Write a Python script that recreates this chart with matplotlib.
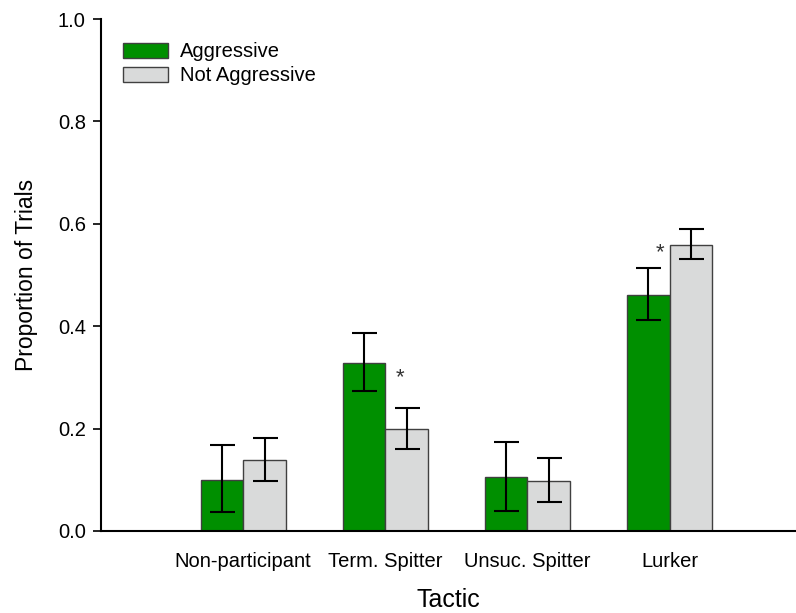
import numpy as np
import matplotlib.pyplot as plt

plt.rcParams['font.family'] = ['Liberation Sans', 'DejaVu Sans']

# data
tactics = ['Non-participant', 'Term. Spitter', 'Unsuc. Spitter', 'Lurker']
aggr = [0.10, 0.328, 0.105, 0.461]
aggr_lo = [0.037, 0.273, 0.040, 0.412]
aggr_hi = [0.168, 0.387, 0.173, 0.513]
notaggr = [0.139, 0.200, 0.097, 0.559]
notaggr_lo = [0.098, 0.160, 0.057, 0.531]
notaggr_hi = [0.182, 0.240, 0.142, 0.590]

x = np.arange(1, len(tactics) + 1)
w = 0.3

fig = plt.figure(figsize=(7.96, 6.13), dpi=100)
ax = fig.add_axes([0.127, 0.1338, 0.873, 0.835])

a_err = [np.array(aggr) - np.array(aggr_lo), np.array(aggr_hi) - np.array(aggr)]
n_err = [np.array(notaggr) - np.array(notaggr_lo), np.array(notaggr_hi) - np.array(notaggr)]

ax.bar(x - w / 2, aggr, w, color='#008f00', edgecolor='#404040', linewidth=1,
       label='Aggressive')
ax.bar(x + w / 2, notaggr, w, color='#d9dada', edgecolor='#404040', linewidth=1,
       label='Not Aggressive')
ax.errorbar(x - w / 2, aggr, yerr=a_err, fmt='none', ecolor='black',
            elinewidth=1.5, capsize=9, capthick=1.5)
ax.errorbar(x + w / 2, notaggr, yerr=n_err, fmt='none', ecolor='black',
            elinewidth=1.5, capsize=9, capthick=1.5)

# significance markers
ax.text(x[1] + 0.1, 0.30, '*', fontsize=16, ha='center', va='center', color='#333333')
ax.text(x[3] - 0.07, 0.543, '*', fontsize=16, ha='center', va='center', color='#333333')

ax.set_xlim(0, 4.89)
ax.set_ylim(0, 1.0)
ax.set_xticks(x)
ax.set_xticklabels(tactics, fontsize=14.5)
ax.tick_params(axis='x', length=0, pad=15)
ax.set_yticks(np.arange(0, 1.01, 0.2))
ax.set_yticklabels(['0.0', '0.2', '0.4', '0.6', '0.8', '1.0'], fontsize=14.5)
ax.tick_params(axis='y', direction='out', length=6, width=1.2, pad=5)
ax.spines['top'].set_visible(False)
ax.spines['right'].set_visible(False)
ax.spines['left'].set_linewidth(1.5)
ax.spines['bottom'].set_linewidth(1.5)

ax.set_xlabel('Tactic', fontsize=18, va='center')
ax.xaxis.set_label_coords(0.5, -0.135)
ax.set_ylabel('Proportion of Trials', fontsize=16.5, va='center')
ax.yaxis.set_label_coords(-0.107, 0.5)

ax.legend(loc='upper left', bbox_to_anchor=(0.006, 0.99), frameon=False,
          fontsize=14.5, handlelength=2.2, handleheight=0.8, labelspacing=0.25,
          handletextpad=0.6)

fig.savefig('out.png', dpi=100)
